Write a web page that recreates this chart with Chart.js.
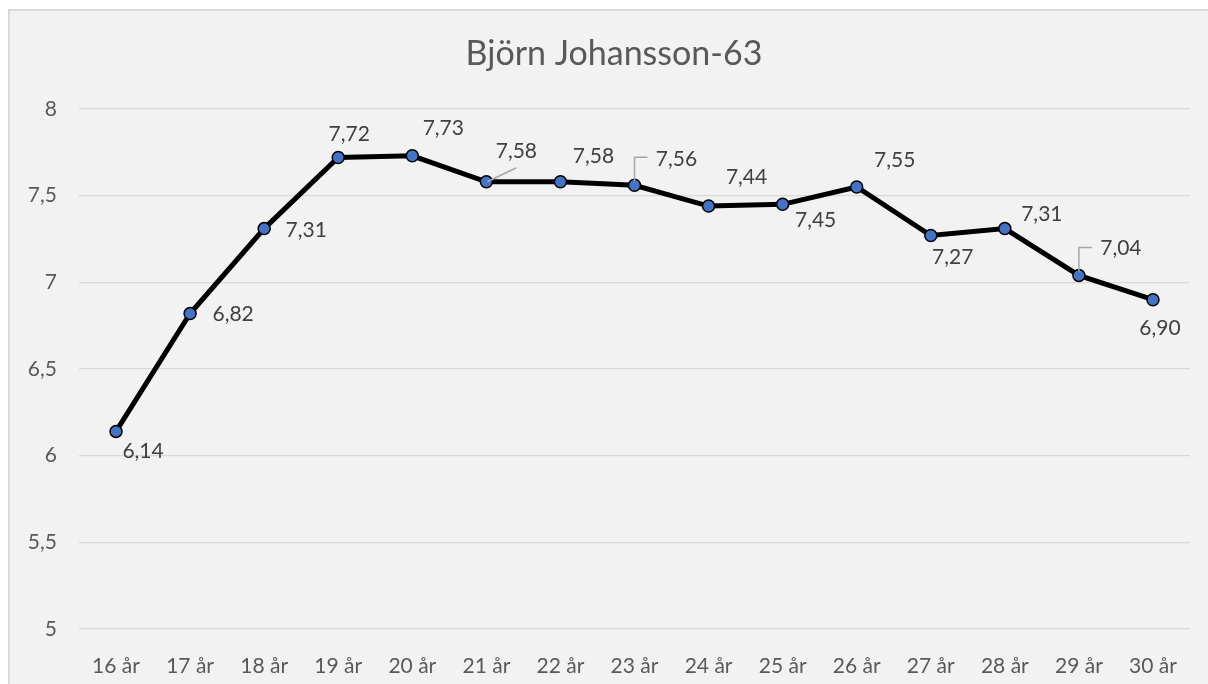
<!DOCTYPE html>
<html>
<head>
<meta charset="utf-8">
<script src="https://cdn.jsdelivr.net/npm/chart.js@4"></script>
<style>
  body { margin: 0; background: #ffffff; }
  #wrap {
    position: absolute; left: 8px; top: 9px;
    width: 1198px; height: 673px;
    background: #f2f2f2;
    border-left: 2px solid #d9d9d9;
    border-top: 2px solid #d9d9d9;
  }
</style>
</head>
<body>
<div id="wrap"><canvas id="chart" width="1198" height="673"></canvas></div>
<script>
// Data
const chartTitle = 'Björn Johansson-63';
const ages = ['16 år','17 år','18 år','19 år','20 år','21 år','22 år','23 år','24 år','25 år','26 år','27 år','28 år','29 år','30 år'];
const scores = [6.14, 6.82, 7.31, 7.72, 7.73, 7.58, 7.58, 7.56, 7.44, 7.45, 7.55, 7.27, 7.31, 7.04, 6.90];
const yTicks = [5, 5.5, 6, 6.5, 7, 7.5, 8];

// where each value label sits, relative to its point (center of text)
const labelOffsets = [[27,20],[43,1],[42,2],[11,-23],[31,-28],[30,-31],[33,-26],[42,-26],[38,-29],[33,16],[38,-27],[22,22],[37,-14],[42,-27],[7,29]];
// leader lines: 'diag' or 'elbow'
const leaders = {5: 'diag', 7: 'elbow', 13: 'elbow'};

const comma = v => v.toFixed(2).replace('.', ',');

// Title drawn by hand so it sits where the original one does
const titlePlugin = {
    id: 'titleText',
    afterDraw(chart) {
        const ctx = chart.ctx;
        ctx.save();
        ctx.font = '34px Lato';
        ctx.fillStyle = '#595959';
        ctx.textAlign = 'center';
        ctx.textBaseline = 'middle';
        ctx.fillText(chartTitle, 604, 43);
        ctx.restore();
    }
};

const valueLabels = {
    id: 'valueLabels',
    afterDatasetsDraw(chart) {
        const ctx = chart.ctx;
        const pts = chart.getDatasetMeta(0).data;
        ctx.save();
        // leader lines
        ctx.strokeStyle = '#a6a6a6';
        ctx.lineWidth = 1.5;
        Object.keys(leaders).forEach(k => {
            const p = pts[k];
            ctx.beginPath();
            if (leaders[k] === 'diag') {
                ctx.moveTo(p.x + 1, p.y);
                ctx.lineTo(p.x + 30, p.y - 14);
            } else {
                ctx.moveTo(p.x, p.y - 4);
                ctx.lineTo(p.x, p.y - 28);
                ctx.lineTo(p.x + 13, p.y - 28);
            }
            ctx.stroke();
        });
        ctx.font = '21px Lato';
        ctx.fillStyle = '#404040';
        ctx.textAlign = 'center';
        ctx.textBaseline = 'middle';
        scores.forEach((v, i) => {
            const p = pts[i];
            ctx.fillText(comma(v), p.x + labelOffsets[i][0], p.y + labelOffsets[i][1]);
        });
        ctx.restore();
    }
};

function draw() {
    Chart.defaults.font.family = 'Lato';
    new Chart(document.getElementById('chart'), {
        type: 'line',
        data: {
            labels: ages,
            datasets: [{
                data: scores,
                borderColor: '#000000',
                borderWidth: 5,
                pointRadius: 6,
                pointBackgroundColor: '#4472c4',
                pointBorderColor: '#000000',
                pointBorderWidth: 1.5,
                tension: 0
            }]
        },
        options: {
            responsive: false,
            animation: false,
            layout: { padding: { left: 0, right: 18, top: 98, bottom: 0 } },
            plugins: {
                legend: { display: false },
                tooltip: { enabled: false },
                title: { display: false }
            },
            scales: {
                y: {
                    min: 5,
                    max: 8,
                    afterBuildTicks: s => { s.ticks = yTicks.map(v => ({ value: v })); },
                    afterFit: s => { s.width = 69; },
                    border: { display: false },
                    grid: { color: '#d9d9d9', lineWidth: 1.3, drawTicks: false },
                    ticks: {
                        padding: 22,
                        color: '#595959',
                        font: { size: 21 },
                        callback: v => String(v).replace('.', ',')
                    }
                },
                x: {
                    offset: true,
                    afterFit: s => { s.height = 55; },
                    border: { display: false },
                    grid: { display: false },
                    ticks: {
                        padding: 17,
                        color: '#595959',
                        font: { size: 21 },
                        maxRotation: 0,
                        autoSkip: false
                    }
                }
            }
        },
        plugins: [valueLabels, titlePlugin]
    });
}

if (document.fonts && document.fonts.load) {
    document.fonts.load('20px Lato').then(draw, draw);
} else {
    draw();
}
</script>
</body>
</html>
